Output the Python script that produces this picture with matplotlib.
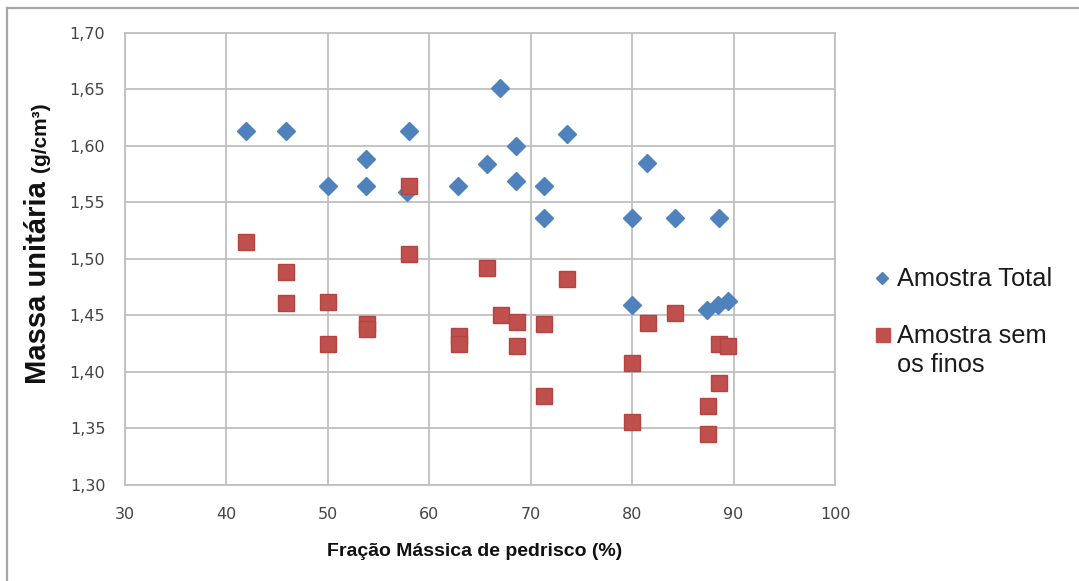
import matplotlib
matplotlib.use('Agg')
import matplotlib.pyplot as plt
from matplotlib.lines import Line2D

# Fração mássica de pedrisco (%) e massa unitária (g/cm³)
fracao_total = [42.0, 45.9, 58.0, 53.8, 50.0, 53.8, 57.8, 62.8, 65.7, 67.0, 68.6, 68.6,
                71.3, 71.3, 73.6, 81.5, 80.0, 84.2, 88.6, 80.0, 87.4, 88.5, 89.5]
massa_total = [1.613, 1.613, 1.613, 1.588, 1.564, 1.564, 1.559, 1.564, 1.584, 1.651, 1.600, 1.569,
               1.564, 1.536, 1.610, 1.585, 1.536, 1.536, 1.536, 1.459, 1.455, 1.459, 1.463]

fracao_sem_finos = [42.0, 45.9, 45.9, 50.0, 50.0, 53.9, 53.9, 58.0, 58.0, 62.9, 62.9, 65.7,
                    67.1, 68.7, 68.7, 71.3, 71.3, 73.6, 80.0, 80.0, 81.6, 84.2, 88.6, 89.5,
                    88.6, 87.5, 87.5]
massa_sem_finos = [1.515, 1.488, 1.461, 1.462, 1.425, 1.442, 1.438, 1.564, 1.504, 1.432, 1.425, 1.492,
                   1.450, 1.444, 1.423, 1.442, 1.379, 1.482, 1.408, 1.356, 1.443, 1.452, 1.425, 1.423,
                   1.390, 1.370, 1.345]

x_ticks = [30, 40, 50, 60, 70, 80, 90, 100]
y_ticks = [1.30, 1.35, 1.40, 1.45, 1.50, 1.55, 1.60, 1.65, 1.70]
y_tick_labels = ['1,30', '1,35', '1,40', '1,45', '1,50', '1,55', '1,60', '1,65', '1,70']

legenda = ['Amostra Total', 'Amostra sem', 'os finos']

azul = '#4F81BD'
vermelho = '#C0504D'
grade = '#BFBFBF'

W, H = 1079, 581
fig = plt.figure(figsize=(W / 100, H / 100), dpi=100)

# moldura do gráfico (só topo e esquerda aparecem)
fig.add_artist(Line2D([7 / W, 7 / W], [0, 1 - 8 / H], transform=fig.transFigure,
                      color='#A6A6A6', lw=1.6))
fig.add_artist(Line2D([7 / W, 1], [1 - 8 / H, 1 - 8 / H], transform=fig.transFigure,
                      color='#A6A6A6', lw=1.6))

ax = fig.add_axes([124.7 / W, 1 - 485 / H, (835 - 124.7) / W, (485 - 32.7) / H])

ax.plot(fracao_total, massa_total, ls='none', marker='D', ms=9.3, color=azul,
        mec=azul, zorder=3)
ax.plot(fracao_sem_finos, massa_sem_finos, ls='none', marker='s', ms=11.5,
        color=vermelho, mec='#B4443F', mew=1, zorder=4)

ax.set_xlim(30, 100)
ax.set_ylim(1.30, 1.70)
ax.set_xticks(x_ticks)
ax.set_yticks(y_ticks)
ax.set_yticklabels(y_tick_labels)
ax.grid(True, color=grade, lw=1.3)
ax.set_axisbelow(True)
for s in ax.spines.values():
    s.set_color(grade)
    s.set_linewidth(1.3)
ax.tick_params(length=0, labelsize=11.5, colors='#444444')
ax.tick_params(axis='x', pad=16)
ax.tick_params(axis='y', pad=14)

fig.text(475 / W, 1 - 551 / H, 'Fração Mássica de pedrisco (%)', ha='center', va='center',
         fontsize=14, fontweight='bold', family='Liberation Sans', color='#111111')

# título do eixo y em duas partes
fig.text(46 / W, 1 - 384 / H, 'Massa unitária', rotation=90, rotation_mode='anchor',
         ha='left', va='baseline', fontsize=21, fontweight='bold',
         family='Liberation Sans', color='#111111')
fig.text(46 / W, 1 - 172 / H, '(g/cm³)', rotation=90, rotation_mode='anchor',
         ha='left', va='baseline', fontsize=15, fontweight='bold',
         family='Liberation Sans', color='#111111')

# legenda
fig.add_artist(Line2D([881.7 / W], [1 - 278.3 / H], transform=fig.transFigure,
                      marker='D', ms=5.8, color=azul, ls='none'))
fig.add_artist(Line2D([883.3 / W], [1 - 335 / H], transform=fig.transFigure,
                      marker='s', ms=9.4, color=vermelho, ls='none'))
for texto, base in zip(legenda, [286, 343.3, 371.7]):
    fig.text(896.7 / W, 1 - base / H, texto, ha='left', va='baseline', fontsize=18.3,
             family='Liberation Sans', color='#1A1A1A')

fig.savefig('out.png', dpi=100)
